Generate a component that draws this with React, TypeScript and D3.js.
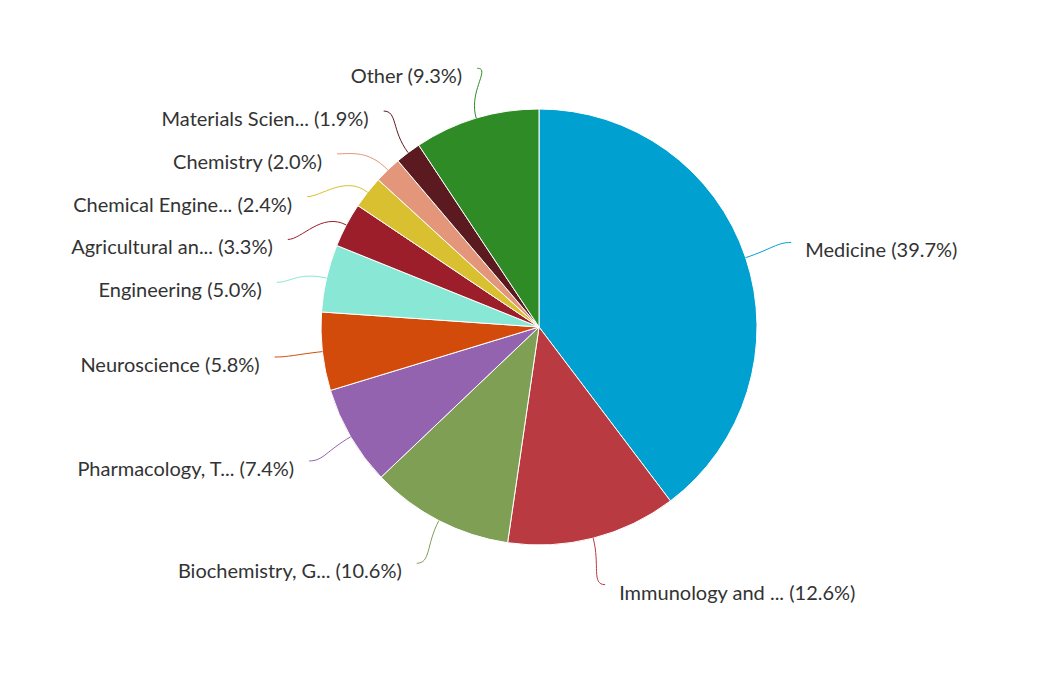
import * as d3 from "d3";
import React from "react";

const labels = [
    "Medicine",
    "Immunology and ...",
    "Biochemistry, G...",
    "Pharmacology, T...",
    "Neuroscience",
    "Engineering",
    "Agricultural an...",
    "Chemical Engine...",
    "Chemistry",
    "Materials Scien...",
    "Other",
];
const shares = [39.7, 12.6, 10.6, 7.4, 5.8, 5.0, 3.3, 2.4, 2.0, 1.9, 9.3];
const colors = [
    "#00a0d0", "#b93b41", "#7f9f55", "#9463b0", "#d24b0a", "#88e8d5",
    "#9b1e2a", "#d8c030", "#e4967a", "#5b1a1f", "#2e8b25",
];

const width = 1043;
const height = 683;
const cx = 539;
const cy = 327;
const radius = 218;
const labelRadius = 266;
const minGap = 42.8;

interface Slice {
    name: string;
    value: number;
    color: string;
}

const data: Slice[] = labels.map((name, i) => ({ name, value: shares[i], color: colors[i] }));

export default function App() {
    const pie = d3.pie<Slice>().sort(null).value(d => d.value);
    const arcs = pie(data);
    const arc = d3.arc<d3.PieArcDatum<Slice>>().innerRadius(0).outerRadius(radius);

    // ideal label spots on the mid-angle
    const items = arcs.map(a => {
        const mid = (a.startAngle + a.endAngle) / 2;
        const right = Math.sin(mid) >= 0;
        return {
            a,
            mid,
            right,
            y: cy - labelRadius * Math.cos(mid),
        };
    });

    // push overlapping labels apart, per side
    [true, false].forEach(side => {
        const list = items.filter(d => d.right === side).sort((p, q) => p.y - q.y);
        for (let i = 1; i < list.length; i++) {
            if (list[i].y < list[i - 1].y + minGap) list[i].y = list[i - 1].y + minGap;
        }
        // lift the crowded top group a little so it sits more evenly
        if (!side) list.forEach(d => { if (d.y < cy - 20) d.y -= 4; });
    });

    const placed = items.map(d => {
        const dy = Math.max(-labelRadius, Math.min(labelRadius, d.y - cy));
        const dx = Math.sqrt(labelRadius * labelRadius - dy * dy);
        const lx = d.right ? cx + dx : cx - dx;
        const ex = cx + radius * Math.sin(d.mid);
        const ey = cy - radius * Math.cos(d.mid);
        const bx = cx + (radius + 28) * Math.sin(d.mid);
        const by = cy - (radius + 28) * Math.cos(d.mid);
        const dir = d.right ? -1 : 1;
        const path = `M${lx},${d.y} C${lx + dir * 14},${d.y} ${bx},${by} ${ex},${ey}`;
        return { ...d, lx, path };
    });

    return (
        <svg width={width} height={height} style={{ position: "absolute", left: 0, top: 0, background: "#fff" }}
            fontFamily="Lato, 'Open Sans', sans-serif">
            <g transform={`translate(${cx},${cy})`}>
                {arcs.map((a, i) => (
                    <path key={i} d={arc(a) || ""} fill={a.data.color} stroke="#fff" strokeWidth={1} />
                ))}
            </g>
            {placed.map((d, i) => (
                <g key={i}>
                    <path d={d.path} fill="none" stroke={d.a.data.color} strokeWidth={1} />
                    <text
                        x={d.right ? d.lx + 14 : d.lx - 15}
                        y={d.y + 7}
                        dominantBaseline="central"
                        textAnchor={d.right ? "start" : "end"}
                        fontSize={20}
                        fill="#333"
                    >
                        {d.a.data.name} ({d.a.data.value.toFixed(1)}%)
                    </text>
                </g>
            ))}
        </svg>
    );
}
